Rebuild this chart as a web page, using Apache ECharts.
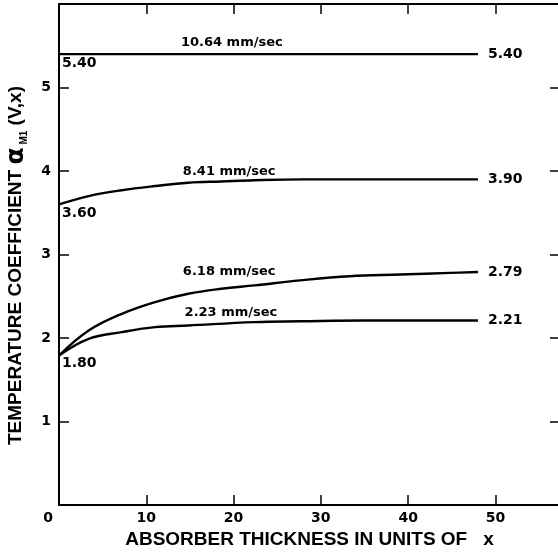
<!DOCTYPE html>
<html>
<head>
<meta charset="utf-8">
<script src="https://cdn.jsdelivr.net/npm/echarts@6/dist/echarts.min.js"></script>
<style>
  html, body { margin: 0; padding: 0; background: #fff; }
  #chart { width: 558px; height: 554px; }
</style>
</head>
<body>
<div id="chart"></div>
<script>
// values (x in units of absorber thickness)
const curveNames = ['10.64 mm/sec', '8.41 mm/sec', '6.18 mm/sec', '2.23 mm/sec'];

const x1064 = [0, 48];
const y1064 = [5.40, 5.40];

const x841 = [0, 3.4, 7.2, 11, 14.8, 18.6, 22.4, 28, 35, 48];
const y841 = [3.60, 3.70, 3.77, 3.82, 3.86, 3.875, 3.89, 3.90, 3.90, 3.90];

const x618 = [0, 3.4, 7.2, 11, 14.8, 18.6, 22.4, 27.6, 33.3, 39.1, 44.8, 48];
const y618 = [1.79, 2.09, 2.29, 2.43, 2.53, 2.59, 2.63, 2.69, 2.74, 2.76, 2.78, 2.79];

const x223 = [0, 3.4, 7.2, 11, 14.8, 22.4, 27.6, 35, 48];
const y223 = [1.79, 1.99, 2.07, 2.13, 2.15, 2.19, 2.20, 2.21, 2.21];

const endLabels = ['5.40', '3.90', '2.79', '2.21'];
const startLabels = ['5.40', '3.60', '1.80', ''];
const startValues = [5.40, 3.60, 1.80, 1.80];

// where each curve's name sits (data units)
const nameX = [19.8, 19.5, 19.5, 19.7];
const nameY = [5.54, 3.99, 2.80, 2.30];

const numFont = 'DejaVu Sans';
const wordFont = 'Liberation Sans';

const chart = echarts.init(document.getElementById('chart'));

const xs = [x1064, x841, x618, x223];
const ys = [y1064, y841, y618, y223];

const series = curveNames.map((name, i) => {
    const mp = [{
        coord: [nameX[i], nameY[i]],
        label: { formatter: name, fontSize: 13 }
    }];
    if (startLabels[i]) {
        mp.push({
            coord: [0, startValues[i]],
            label: { formatter: startLabels[i], position: 'right', offset: [-2, 9], fontSize: 14 }
        });
    }
    return {
        type: 'line',
        name: name,
        data: xs[i].map((x, k) => [x, ys[i][k]]),
        smooth: 0.4,
        showSymbol: false,
        lineStyle: { color: '#000', width: 2.4 },
        endLabel: {
            show: true, formatter: endLabels[i], distance: 10,
            color: '#000', fontFamily: numFont, fontWeight: 'bold', fontSize: 14
        },
        markPoint: {
            symbol: 'circle', symbolSize: 0, silent: true,
            label: { show: true, color: '#000', fontFamily: numFont, fontWeight: 'bold' },
            data: mp
        }
    };
});

const tickStyle = { show: true, inside: true, length: 10, lineStyle: { color: '#000', width: 1.5 } };
const lineStyle = { show: true, onZero: false, lineStyle: { color: '#000', width: 2 } };

chart.setOption({
    animation: false,
    backgroundColor: '#fff',
    grid: { left: 59, right: -2, top: 4, bottom: 49, outerBoundsMode: 'none' },
    xAxis: [{
        type: 'value', position: 'bottom', min: 0, max: 57.4, interval: 10,
        axisLine: lineStyle, axisTick: tickStyle, splitLine: { show: false },
        axisLabel: {
            margin: 6, color: '#000', fontFamily: numFont, fontWeight: 'bold', fontSize: 14,
            formatter: v => v === 0 ? '{z|0}' : (v > 50 ? '' : String(v)),
            rich: { z: { padding: [0, 22, 0, 0], fontFamily: numFont, fontWeight: 'bold', fontSize: 14, color: '#000' } }
        },
        name: '{a|ABSORBER THICKNESS IN UNITS OF}{x|x}',
        nameLocation: 'middle', nameGap: 25,
        nameTextStyle: {
            rich: {
                a: { fontFamily: wordFont, fontWeight: 'bold', fontSize: 19, color: '#000' },
                x: { fontFamily: wordFont, fontWeight: 'bold', fontSize: 19, color: '#000', padding: [0, 0, 0, 16] }
            }
        }
    }, {
        type: 'value', position: 'top', min: 0, max: 57.4, interval: 10,
        axisLine: lineStyle, axisTick: tickStyle, axisLabel: { show: false }, splitLine: { show: false }
    }],
    yAxis: [{
        type: 'value', position: 'left', min: 0, max: 6, interval: 1,
        axisLine: lineStyle, axisTick: tickStyle, splitLine: { show: false },
        axisLabel: {
            margin: 8, color: '#000', fontFamily: numFont, fontWeight: 'bold', fontSize: 14,
            formatter: v => (v === 0 || v === 6) ? '' : String(v)
        },
        name: '{a|TEMPERATURE COEFFICIENT }{b|α}{s| M1}{a| (V,x)}',
        nameLocation: 'middle', nameGap: 30,
        nameTextStyle: {
            padding: [0, 22, 0, 0],
            rich: {
                a: { fontFamily: wordFont, fontWeight: 'bold', fontSize: 19, color: '#000', lineHeight: 26 },
                b: { fontFamily: 'DejaVu Sans', fontWeight: 'bold', fontSize: 25, color: '#000', lineHeight: 26 },
                s: { fontFamily: wordFont, fontWeight: 'bold', fontSize: 10, color: '#000', lineHeight: 26, verticalAlign: 'bottom' }
            }
        }
    }, {
        type: 'value', position: 'right', min: 0, max: 6, interval: 1,
        axisLine: lineStyle, axisTick: tickStyle, axisLabel: { show: false }, splitLine: { show: false }
    }],
    series: series
});

window.onresize = () => chart.resize();
</script>
</body>
</html>
